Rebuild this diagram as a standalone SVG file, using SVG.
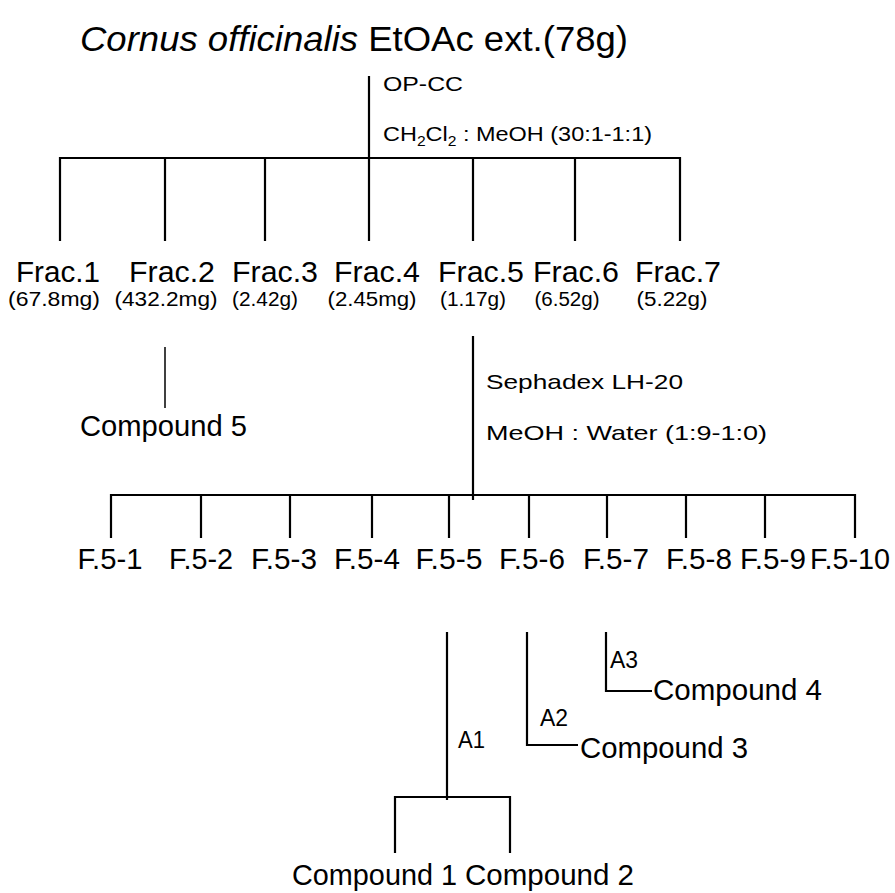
<svg xmlns="http://www.w3.org/2000/svg" width="895" height="893" viewBox="0 0 895 893">
<style>
text{font-family:"Liberation Sans",Arial,sans-serif;fill:#000}
.t{font-size:35px}
.f{font-size:29px;text-anchor:middle}
.s{font-size:20px;text-anchor:middle}
.m{font-size:21px}
.a{font-size:24px}
.c{font-size:29px}
.l{stroke:#000;stroke-width:2.2;fill:none}
.n{stroke:#000;stroke-width:1.5;fill:none}
</style>
<rect width="895" height="893" fill="#fff"/>
<g id="title"><text class="t" x="80" y="51" textLength="548" lengthAdjust="spacingAndGlyphs"><tspan font-style="italic">Cornus officinalis</tspan> EtOAc ext.(78g)</text></g>
<g id="cond1">
<text class="m" x="383" y="91" textLength="80" lengthAdjust="spacingAndGlyphs">OP-CC</text>
<text class="m" x="383" y="141" textLength="269" lengthAdjust="spacingAndGlyphs">CH<tspan font-size="14" dy="5">2</tspan><tspan dy="-5">Cl</tspan><tspan font-size="14" dy="5">2</tspan><tspan dy="-5"> : MeOH (30:1-1:1)</tspan></text>
</g>
<g id="frac1"><text class="f" x="58" y="282" textLength="84" lengthAdjust="spacingAndGlyphs">Frac.1</text><text class="s" x="54" y="306" textLength="92" lengthAdjust="spacingAndGlyphs">(67.8mg)</text></g>
<g id="frac2"><text class="f" x="172" y="282" textLength="86" lengthAdjust="spacingAndGlyphs">Frac.2</text><text class="s" x="166" y="306" textLength="103" lengthAdjust="spacingAndGlyphs">(432.2mg)</text></g>
<g id="frac3"><text class="f" x="275" y="282" textLength="86" lengthAdjust="spacingAndGlyphs">Frac.3</text><text class="s" x="265" y="306" textLength="66" lengthAdjust="spacingAndGlyphs">(2.42g)</text></g>
<g id="frac4"><text class="f" x="377" y="282" textLength="86" lengthAdjust="spacingAndGlyphs">Frac.4</text><text class="s" x="372" y="306" textLength="89" lengthAdjust="spacingAndGlyphs">(2.45mg)</text></g>
<g id="frac5"><text class="f" x="481" y="282" textLength="86" lengthAdjust="spacingAndGlyphs">Frac.5</text><text class="s" x="473" y="306" textLength="66" lengthAdjust="spacingAndGlyphs">(1.17g)</text></g>
<g id="frac6"><text class="f" x="576" y="282" textLength="86" lengthAdjust="spacingAndGlyphs">Frac.6</text><text class="s" x="567" y="306" textLength="65" lengthAdjust="spacingAndGlyphs">(6.52g)</text></g>
<g id="frac7"><text class="f" x="678" y="282" textLength="86" lengthAdjust="spacingAndGlyphs">Frac.7</text><text class="s" x="672" y="306" textLength="71" lengthAdjust="spacingAndGlyphs">(5.22g)</text></g>
<g id="compound5"><text class="c" x="80" y="436" textLength="167" lengthAdjust="spacingAndGlyphs">Compound 5</text></g>
<g id="cond2">
<text class="m" x="486" y="389" textLength="197" lengthAdjust="spacingAndGlyphs">Sephadex LH-20</text>
<text class="m" x="486" y="440" textLength="281" lengthAdjust="spacingAndGlyphs">MeOH : Water (1:9-1:0)</text>
</g>
<g id="f51"><text class="f" x="110" y="569" textLength="65" lengthAdjust="spacingAndGlyphs">F.5-1</text></g>
<g id="f52"><text class="f" x="201" y="569" textLength="64" lengthAdjust="spacingAndGlyphs">F.5-2</text></g>
<g id="f53"><text class="f" x="284" y="569" textLength="66" lengthAdjust="spacingAndGlyphs">F.5-3</text></g>
<g id="f54"><text class="f" x="367" y="569" textLength="66" lengthAdjust="spacingAndGlyphs">F.5-4</text></g>
<g id="f55"><text class="f" x="449" y="569" textLength="67" lengthAdjust="spacingAndGlyphs">F.5-5</text></g>
<g id="f56"><text class="f" x="532" y="569" textLength="66" lengthAdjust="spacingAndGlyphs">F.5-6</text></g>
<g id="f57"><text class="f" x="616" y="569" textLength="66" lengthAdjust="spacingAndGlyphs">F.5-7</text></g>
<g id="f58"><text class="f" x="699" y="569" textLength="66" lengthAdjust="spacingAndGlyphs">F.5-8</text></g>
<g id="f59"><text class="f" x="773" y="569" textLength="66" lengthAdjust="spacingAndGlyphs">F.5-9</text></g>
<g id="f510"><text class="f" x="850" y="569" textLength="80" lengthAdjust="spacingAndGlyphs">F.5-10</text></g>
<g id="a1"><text class="a" x="458" y="748" textLength="27" lengthAdjust="spacingAndGlyphs">A1</text></g>
<g id="a2"><text class="a" x="540" y="726" textLength="28" lengthAdjust="spacingAndGlyphs">A2</text></g>
<g id="a3"><text class="a" x="610" y="668" textLength="28" lengthAdjust="spacingAndGlyphs">A3</text></g>
<g id="compound3"><text class="c" x="580" y="758" textLength="168" lengthAdjust="spacingAndGlyphs">Compound 3</text></g>
<g id="compound4"><text class="c" x="653" y="700" textLength="169" lengthAdjust="spacingAndGlyphs">Compound 4</text></g>
<g id="compound1"><text class="c" x="292" y="885" textLength="165" lengthAdjust="spacingAndGlyphs">Compound 1</text></g>
<g id="compound2"><text class="c" x="465" y="885" textLength="169" lengthAdjust="spacingAndGlyphs">Compound 2</text></g>
<g id="connectors">
<path class="l" d="M369 76V158M60 241V158H680V241M165 158V241M265 158V241M369 158V241M473 158V241M575 158V241"/>
<path class="n" d="M165 347V408"/>
<path class="l" d="M473 336V500M111 538V495H855V538M201 495V538M290 495V538M372 495V538M449 495V538M529 495V538M607 495V538M686 495V538M765 495V538"/>
<path class="l" d="M447 632V800M395 853V797H510V853"/>
<path class="l" d="M527 632V745H578"/>
<path class="l" d="M606 632V691H652"/>
</g>
</svg>
